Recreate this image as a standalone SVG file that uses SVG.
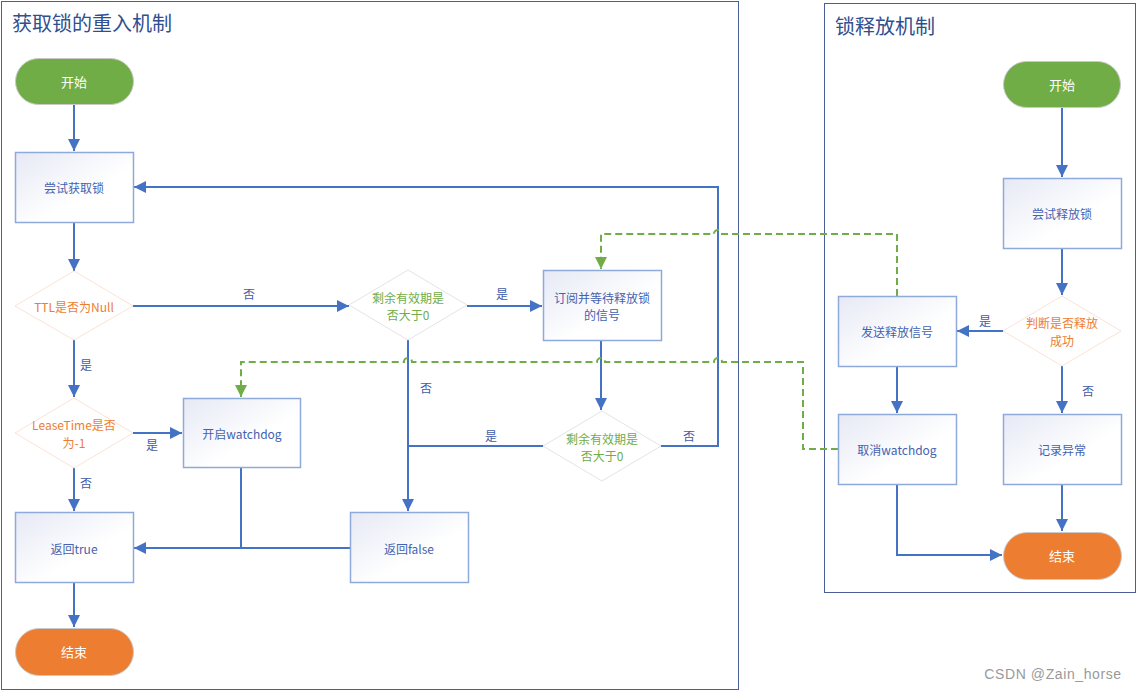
<svg xmlns="http://www.w3.org/2000/svg" width="1137" height="691" viewBox="0 0 1137 691">
<style>
text{font-family:"Noto Sans CJK SC","Noto Sans",sans-serif;font-size:12px;text-anchor:middle;dominant-baseline:central}
.title{font-size:20px;text-anchor:start;fill:#2f4f8f}
.frame{fill:none;stroke:#4a5f9a;stroke-width:1}
.box{fill:url(#g);stroke:#8eaadb;stroke-width:1.5}
.bt{fill:#4462b0}
.term{stroke:#c9c9c9;stroke-width:1}
.tt{fill:#ffffff;font-size:13px}
.dio{fill:#fff;stroke:#fbe3d6;stroke-width:1}
.dig{fill:#fff;stroke:#e4e4e4;stroke-width:1}
.to{fill:#ed7d31}
.tg{fill:#70ad47}
.lbl{fill:#3f5ba9}
.c{fill:none;stroke:#4472c4;stroke-width:2}
.ca{marker-end:url(#ab)}
.d{fill:none;stroke:#70ad47;stroke-width:2;stroke-dasharray:7 4}
</style>
<defs>
<linearGradient id="g" x1="0" y1="0" x2="1" y2="1">
<stop offset="0" stop-color="#e6e9f5"/>
<stop offset="0.6" stop-color="#ffffff"/>
</linearGradient>
<marker id="ab" markerUnits="userSpaceOnUse" markerWidth="12" markerHeight="12" refX="12" refY="6" orient="auto">
<path d="M0,0 L12,6 L0,12 z" fill="#4472c4"/>
</marker>
<marker id="ag" markerUnits="userSpaceOnUse" markerWidth="12" markerHeight="12" refX="12" refY="6" orient="auto">
<path d="M0,0 L12,6 L0,12 z" fill="#70ad47"/>
</marker>
</defs>
<rect width="1137" height="691" fill="#ffffff"/>
<g id="frames">
<rect class="frame" x="1.5" y="1.5" width="737" height="688"/>
<rect class="frame" x="824.5" y="3.5" width="311" height="589"/>
<text class="title" x="12" y="22">获取锁的重入机制</text>
<text class="title" x="835" y="25">锁释放机制</text>
</g>
<g id="connectors">
<path class="c ca" d="M74,104 V151"/>
<path class="c ca" d="M74,222 V271"/>
<path class="c ca" d="M133,306 H349"/>
<path class="c ca" d="M467,306 H542"/>
<path class="c ca" d="M408,340 V511"/>
<path class="c ca" d="M601,341 V410"/>
<path class="c" d="M543,446 H408"/>
<path class="c ca" d="M661,446 H718 V187 H134"/>
<path class="c ca" d="M74,340 V397"/>
<path class="c ca" d="M133,433 H182"/>
<path class="c ca" d="M74,467 V511"/>
<path class="c" d="M241,467 V548"/>
<path class="c ca" d="M350,548 H134"/>
<path class="c ca" d="M74,583 V627"/>
<path class="c ca" d="M1062,107 V177"/>
<path class="c ca" d="M1062,248 V295"/>
<path class="c ca" d="M1003,331 H957"/>
<path class="c ca" d="M1062,366 V413"/>
<path class="c ca" d="M897,366 V413"/>
<path class="c ca" d="M897,485 V555 H1002"/>
<path class="c ca" d="M1062,485 V531"/>
<path class="d" marker-end="url(#ag)" d="M897,296 V234 H722 A4,4 0 0 0 714,234 H601 V269"/>
<path class="d" marker-end="url(#ag)" d="M838,449 H803 V362 H722 A4,4 0 0 0 714,362 H605 A4,4 0 0 0 597,362 H412 A4,4 0 0 0 404,362 H241 V397"/>
<text class="lbl" x="249" y="293">否</text>
<text class="lbl" x="502" y="293">是</text>
<text class="lbl" x="426" y="387">否</text>
<text class="lbl" x="491" y="435">是</text>
<text class="lbl" x="689" y="435">否</text>
<text class="lbl" x="86" y="364">是</text>
<text class="lbl" x="152" y="444">是</text>
<text class="lbl" x="86" y="482">否</text>
<text class="lbl" x="985" y="320">是</text>
<text class="lbl" x="1088" y="390">否</text>
</g>
<g id="start1"><rect class="term" x="15.5" y="58.5" width="118" height="46" rx="23" fill="#70ad47"/><text class="tt" x="74" y="81">开始</text></g>
<g id="tryLock"><rect class="box" x="15.5" y="152.5" width="118" height="70"/><text class="bt" x="74" y="187">尝试获取锁</text></g>
<g id="ttlNull"><polygon class="dio" points="74,271 133,306 74,340 15,306"/><text class="to" x="74" y="306">TTL是否为Null</text></g>
<g id="remain1"><polygon class="dig" points="408,270 467,305 408,340 349,305"/><text class="tg" x="408" y="297">剩余有效期是</text><text class="tg" x="408" y="314">否大于0</text></g>
<g id="subscribe"><rect class="box" x="543.5" y="270.5" width="118" height="70"/><text class="bt" x="602" y="297">订阅并等待释放锁</text><text class="bt" x="602" y="314">的信号</text></g>
<g id="remain2"><polygon class="dig" points="602,411 661,446 602,481 543,446"/><text class="tg" x="602" y="438">剩余有效期是</text><text class="tg" x="602" y="455">否大于0</text></g>
<g id="leaseTime"><polygon class="dio" points="74,398 133,433 74,468 15,433"/><text class="to" x="74" y="424">LeaseTime是否</text><text class="to" x="74" y="442">为-1</text></g>
<g id="watchdog"><rect class="box" x="183.5" y="398.5" width="117" height="69"/><text class="bt" x="242" y="433">开启watchdog</text></g>
<g id="retTrue"><rect class="box" x="15.5" y="512.5" width="118" height="70"/><text class="bt" x="74" y="548">返回true</text></g>
<g id="retFalse"><rect class="box" x="350.5" y="512.5" width="118" height="70"/><text class="bt" x="409" y="548">返回false</text></g>
<g id="end1"><rect class="term" x="15.5" y="628.5" width="118" height="47" rx="23.5" fill="#ed7d31"/><text class="tt" x="74" y="651">结束</text></g>
<g id="start2"><rect class="term" x="1003.5" y="61.5" width="117" height="46" rx="23" fill="#70ad47"/><text class="tt" x="1062" y="84">开始</text></g>
<g id="tryRelease"><rect class="box" x="1003.5" y="178.5" width="118" height="70"/><text class="bt" x="1062" y="213">尝试释放锁</text></g>
<g id="judge"><polygon class="dio" points="1062,296 1121,331 1062,366 1003,331"/><text class="to" x="1062" y="322">判断是否释放</text><text class="to" x="1062" y="340">成功</text></g>
<g id="sendSignal"><rect class="box" x="838.5" y="296.5" width="118" height="70"/><text class="bt" x="897" y="331">发送释放信号</text></g>
<g id="cancelWatchdog"><rect class="box" x="838.5" y="414.5" width="118" height="70"/><text class="bt" x="897" y="449">取消watchdog</text></g>
<g id="logError"><rect class="box" x="1003.5" y="414.5" width="118" height="70"/><text class="bt" x="1062" y="449">记录异常</text></g>
<g id="end2"><rect class="term" x="1003.5" y="532.5" width="118" height="47" rx="23.5" fill="#ed7d31"/><text class="tt" x="1062" y="555">结束</text></g>
<text x="1053" y="674" style="fill:#9a9a9a;font-size:14px;letter-spacing:0.6px;font-family:'Liberation Sans',Arial,sans-serif">CSDN @Zain_horse</text>
</svg>
